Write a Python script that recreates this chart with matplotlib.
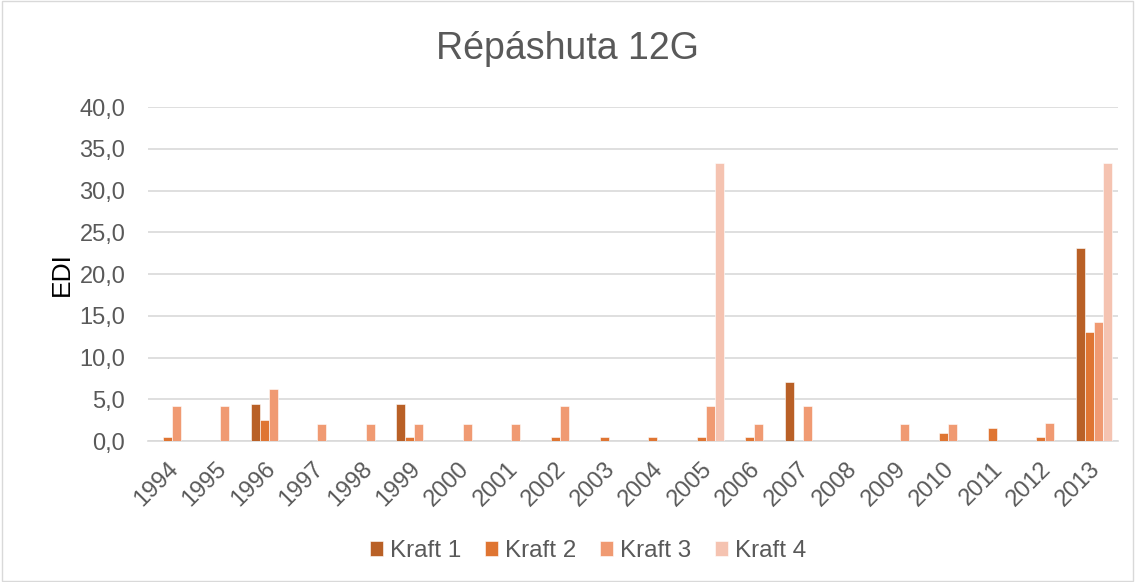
import matplotlib.pyplot as plt
import numpy as np

years = [str(y) for y in range(1994, 2014)]
kraft1 = [0, 0, 4.5, 0, 0, 4.5, 0, 0, 0, 0, 0, 0, 0, 7.1, 0, 0, 0, 0, 0, 23.1]
kraft2 = [0.5, 0, 2.5, 0, 0, 0.5, 0, 0, 0.5, 0.5, 0.5, 0.5, 0.5, 0, 0, 0, 1.0, 1.6, 0.5, 13.1]
kraft3 = [4.2, 4.2, 6.3, 2.1, 2.1, 2.1, 2.1, 2.1, 4.2, 0, 0, 4.2, 2.1, 4.2, 0, 2.1, 2.1, 0, 2.2, 14.3]
kraft4 = [0, 0, 0, 0, 0, 0, 0, 0, 0, 0, 0, 33.3, 0, 0, 0, 0, 0, 0, 0, 33.3]

series = [kraft1, kraft2, kraft3, kraft4]
names = ["Kraft 1", "Kraft 2", "Kraft 3", "Kraft 4"]
colors = ["#B96026", "#DF7532", "#F09A72", "#F5C3B1"]

plt.rcParams['font.family'] = ['Liberation Sans', 'DejaVu Sans']
text_col = "#595959"

fig = plt.figure(figsize=(11.35, 5.82), dpi=100)
ax = fig.add_axes([0.130, 0.242, 0.855, 0.574])

x = np.arange(len(years))
bw = 1 / (4 + 1.4)
for i, (vals, name, col) in enumerate(zip(series, names, colors)):
    ax.bar(x + (i - 1.5) * bw, vals, width=bw, color=col, label=name,
           edgecolor="white", linewidth=0.4, zorder=3)

ax.set_xlim(-0.5, len(years) - 0.5)
ax.set_ylim(0, 40)
ax.set_yticks(np.arange(0, 41, 5))
ax.set_yticklabels([f"{v:.1f}".replace(".", ",") for v in np.arange(0, 41, 5)])
ax.set_xticks(x - 0.1)
ax.set_xticklabels(years, rotation=45, ha="right", rotation_mode="anchor")
ax.tick_params(axis="y", length=0, labelsize=17, colors=text_col, pad=16)
ax.tick_params(axis="x", length=0, labelsize=17, colors=text_col, pad=12)
ax.grid(axis="y", color="#D9D9D9", linewidth=1.2, zorder=0)
for s in ["top", "right", "left"]:
    ax.spines[s].set_visible(False)
ax.spines["bottom"].set_color("#D9D9D9")
ax.spines["bottom"].set_linewidth(1.2)

ax.set_ylabel("EDI", fontsize=19, color="black", labelpad=4)
fig.text(0.5, 0.915, "Répáshuta 12G", ha="center", va="center", fontsize=27, color=text_col)

leg = fig.legend(loc="center", bbox_to_anchor=(0.518, 0.053), ncol=4, frameon=False,
                 fontsize=17.5, handlelength=0.55, handleheight=0.55, handletextpad=0.25,
                 columnspacing=1.0)
for t in leg.get_texts():
    t.set_color(text_col)

fig.patches.append(plt.Rectangle((0.002, 0.002), 0.996, 0.996, transform=fig.transFigure,
                                 fill=False, edgecolor="#D9D9D9", linewidth=1))

fig.savefig("out.png", dpi=100)
